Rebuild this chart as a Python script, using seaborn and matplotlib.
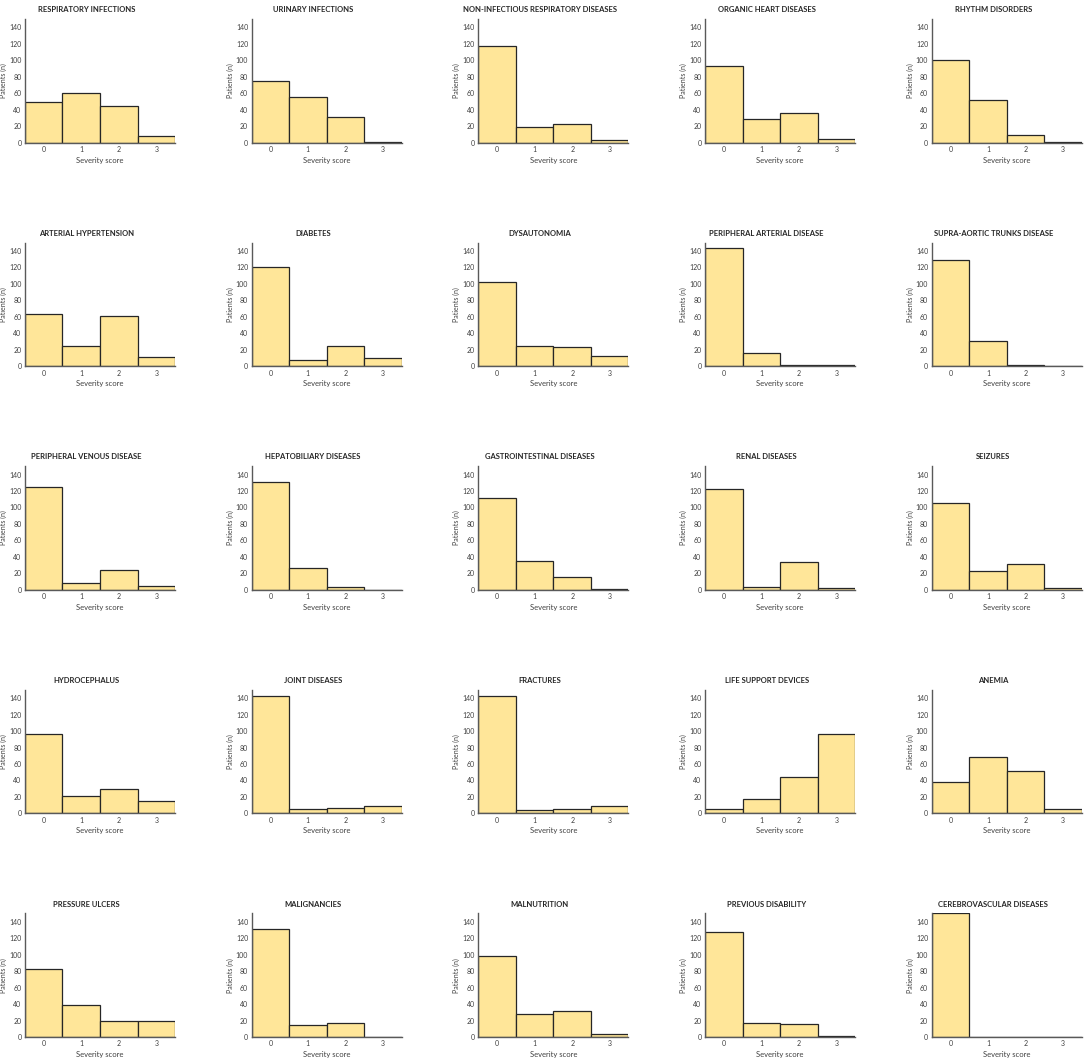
import matplotlib
matplotlib.use('agg')
import matplotlib.pyplot as plt
import seaborn as sns
import pandas as pd

scores = [0, 1, 2, 3]

respiratory_infections = [49, 60, 45, 8]
urinary_infections = [75, 55, 31, 1]
non_infectious_respiratory = [117, 19, 23, 3]
organic_heart = [93, 29, 36, 4]
rhythm_disorders = [100, 52, 9, 1]
arterial_hypertension = [63, 25, 61, 11]
diabetes = [120, 7, 25, 10]
dysautonomia = [102, 25, 23, 12]
peripheral_arterial = [143, 16, 2, 1]
supra_aortic = [129, 31, 2, 0]
peripheral_venous = [125, 8, 24, 5]
hepatobiliary = [131, 27, 4, 0]
gastrointestinal = [111, 35, 15, 1]
renal = [123, 3, 34, 2]
seizures = [106, 23, 31, 2]
hydrocephalus = [96, 21, 30, 15]
joint_diseases = [142, 5, 6, 9]
fractures = [142, 4, 5, 9]
life_support = [5, 17, 44, 96]
anemia = [38, 68, 51, 5]
pressure_ulcers = [83, 39, 20, 20]
malignancies = [131, 15, 17, 0]
malnutrition = [98, 28, 32, 4]
previous_disability = [128, 17, 16, 1]
cerebrovascular = [150, 0, 0, 0]

titles = [
    "RESPIRATORY INFECTIONS", "URINARY INFECTIONS", "NON-INFECTIOUS RESPIRATORY DISEASES",
    "ORGANIC HEART DISEASES", "RHYTHM DISORDERS",
    "ARTERIAL HYPERTENSION", "DIABETES", "DYSAUTONOMIA",
    "PERIPHERAL ARTERIAL DISEASE", "SUPRA-AORTIC TRUNKS DISEASE",
    "PERIPHERAL VENOUS DISEASE", "HEPATOBILIARY DISEASES", "GASTROINTESTINAL DISEASES",
    "RENAL DISEASES", "SEIZURES",
    "HYDROCEPHALUS", "JOINT DISEASES", "FRACTURES", "LIFE SUPPORT DEVICES", "ANEMIA",
    "PRESSURE ULCERS", "MALIGNANCIES", "MALNUTRITION", "PREVIOUS DISABILITY",
    "CEREBROVASCULAR DISEASES",
]
counts = [
    respiratory_infections, urinary_infections, non_infectious_respiratory, organic_heart, rhythm_disorders,
    arterial_hypertension, diabetes, dysautonomia, peripheral_arterial, supra_aortic,
    peripheral_venous, hepatobiliary, gastrointestinal, renal, seizures,
    hydrocephalus, joint_diseases, fractures, life_support, anemia,
    pressure_ulcers, malignancies, malnutrition, previous_disability, cerebrovascular,
]

sns.set_theme(style="white")
plt.rcParams['font.family'] = ['Lato', 'DejaVu Sans']

fig, axes = plt.subplots(5, 5, figsize=(10.84, 10.61), dpi=100)
fig.subplots_adjust(left=0.023, right=0.998, top=0.982, bottom=0.0226,
                    wspace=0.51, hspace=0.81)

for ax, title, vals in zip(axes.flat, titles, counts):
    df = pd.DataFrame({'Severity score': scores, 'Patients (n)': vals})
    sns.barplot(data=df, x='Severity score', y='Patients (n)', ax=ax,
                color='#FFE699', saturation=1, width=1,
                edgecolor='#262626', linewidth=0.9)
    ax.set_xlim(-0.5, 3.5)
    ax.set_ylim(0, 150)
    ax.set_yticks(range(0, 141, 20))
    ax.tick_params(length=0, labelsize=5, colors='#404040', pad=2.5)
    ax.set_xlabel('Severity score', fontsize=5.5, color='#404040', labelpad=2.5)
    ax.set_ylabel('Patients (n)', fontsize=5, color='#404040', labelpad=1.5)
    ax.set_title(title, fontsize=5.5, fontweight='bold', color='#262626', x=0.41, pad=5)
    sns.despine(ax=ax)
    for side in ['left', 'bottom']:
        ax.spines[side].set_color('#595959')
        ax.spines[side].set_linewidth(1.0)

plt.savefig('out.png', dpi=100)
